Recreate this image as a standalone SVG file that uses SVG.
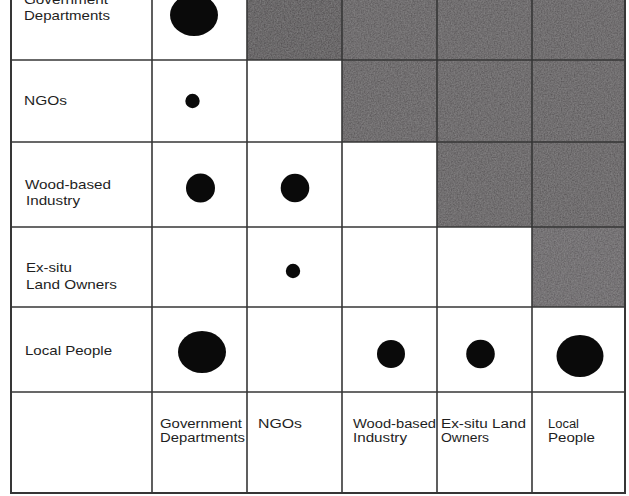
<svg xmlns="http://www.w3.org/2000/svg" width="629" height="496" viewBox="0 0 629 496">
<style>
.lbl{font-family:"Liberation Sans",Arial,Helvetica,sans-serif;font-size:13px;fill:#1e1e1e;}
.col{font-size:12.5px;}
.grid{stroke:#363636;stroke-width:1.6;fill:none;}
.shade{fill:#5a5658;}
.dot{fill:#0a0a0a;}
</style>
<defs>
<filter id="grain" x="0" y="0" width="100%" height="100%">
<feTurbulence type="fractalNoise" baseFrequency="0.7" numOctaves="2" seed="4" result="n"/>
<feColorMatrix in="n" type="matrix" values="1 0 0 0 0  1 0 0 0 0  1 0 0 0 0  0 0 0 0 0.16" result="g"/>
<feComposite in="g" in2="SourceGraphic" operator="atop"/>
</filter>
</defs>
<rect width="629" height="496" fill="#ffffff"/>
<g id="shading" filter="url(#grain)">
<rect class="shade" x="247" y="0" width="95" height="60" style="fill:#504c4e"/>
<rect class="shade" x="342" y="0" width="283" height="60"/>
<rect class="shade" x="342" y="60" width="283" height="82"/>
<rect class="shade" x="437" y="142" width="188" height="85"/>
<rect class="shade" x="532" y="227" width="93" height="80" style="fill:#625e61"/>
</g>
<g id="grid" class="grid">
<line x1="11" y1="0" x2="11" y2="493" stroke-width="2"/>
<line x1="152" y1="0" x2="152" y2="493"/>
<line x1="247" y1="0" x2="247" y2="493"/>
<line x1="342" y1="0" x2="342" y2="493"/>
<line x1="437" y1="0" x2="437" y2="493"/>
<line x1="532" y1="0" x2="532" y2="493"/>
<line x1="625" y1="0" x2="625" y2="493" stroke-width="2"/>
<line x1="11" y1="60" x2="625" y2="60"/>
<line x1="11" y1="142" x2="625" y2="142"/>
<line x1="11" y1="227" x2="625" y2="227"/>
<line x1="11" y1="307" x2="625" y2="307"/>
<line x1="11" y1="392" x2="625" y2="392"/>
<line x1="10" y1="493" x2="626" y2="493" stroke-width="2.2"/>
</g>
<g id="row-government">
<text class="lbl" x="24" y="4" textLength="84" lengthAdjust="spacingAndGlyphs">Government</text>
<text class="lbl" x="24" y="20" textLength="86" lengthAdjust="spacingAndGlyphs">Departments</text>
<ellipse class="dot" cx="194" cy="15" rx="24" ry="21"/>
</g>
<g id="row-ngos">
<text class="lbl" x="24" y="105" textLength="43" lengthAdjust="spacingAndGlyphs">NGOs</text>
<circle class="dot" cx="192.5" cy="101" r="7.2"/>
</g>
<g id="row-wood">
<text class="lbl" x="25" y="189" textLength="86" lengthAdjust="spacingAndGlyphs">Wood-based</text>
<text class="lbl" x="26" y="205" textLength="54" lengthAdjust="spacingAndGlyphs">Industry</text>
<circle class="dot" cx="200.5" cy="188" r="14.5"/>
<circle class="dot" cx="295" cy="188" r="14.3"/>
</g>
<g id="row-exsitu">
<text class="lbl" x="26" y="272" textLength="46" lengthAdjust="spacingAndGlyphs">Ex-situ</text>
<text class="lbl" x="26" y="289" textLength="91" lengthAdjust="spacingAndGlyphs">Land Owners</text>
<circle class="dot" cx="293" cy="271" r="7.2"/>
</g>
<g id="row-local">
<text class="lbl" x="25" y="355" textLength="87" lengthAdjust="spacingAndGlyphs">Local People</text>
<ellipse class="dot" cx="202" cy="352" rx="24" ry="21"/>
<circle class="dot" cx="391" cy="354" r="14"/>
<circle class="dot" cx="480.5" cy="354" r="14.3"/>
<ellipse class="dot" cx="580" cy="356" rx="23.5" ry="21"/>
</g>
<g id="col-labels">
<text class="lbl col" x="160" y="428" textLength="82" lengthAdjust="spacingAndGlyphs">Government</text>
<text class="lbl col" x="160" y="442" textLength="85" lengthAdjust="spacingAndGlyphs">Departments</text>
<text class="lbl col" x="258" y="428" textLength="44" lengthAdjust="spacingAndGlyphs">NGOs</text>
<text class="lbl col" x="353" y="428" textLength="83" lengthAdjust="spacingAndGlyphs">Wood-based</text>
<text class="lbl col" x="353" y="442" textLength="54" lengthAdjust="spacingAndGlyphs">Industry</text>
<text class="lbl col" x="441" y="428" textLength="85" lengthAdjust="spacingAndGlyphs">Ex-situ Land</text>
<text class="lbl col" x="441" y="442" textLength="48" lengthAdjust="spacingAndGlyphs">Owners</text>
<text class="lbl col" x="548" y="428" textLength="31" lengthAdjust="spacingAndGlyphs">Local</text>
<text class="lbl col" x="548" y="442" textLength="47" lengthAdjust="spacingAndGlyphs">People</text>
</g>
</svg>
